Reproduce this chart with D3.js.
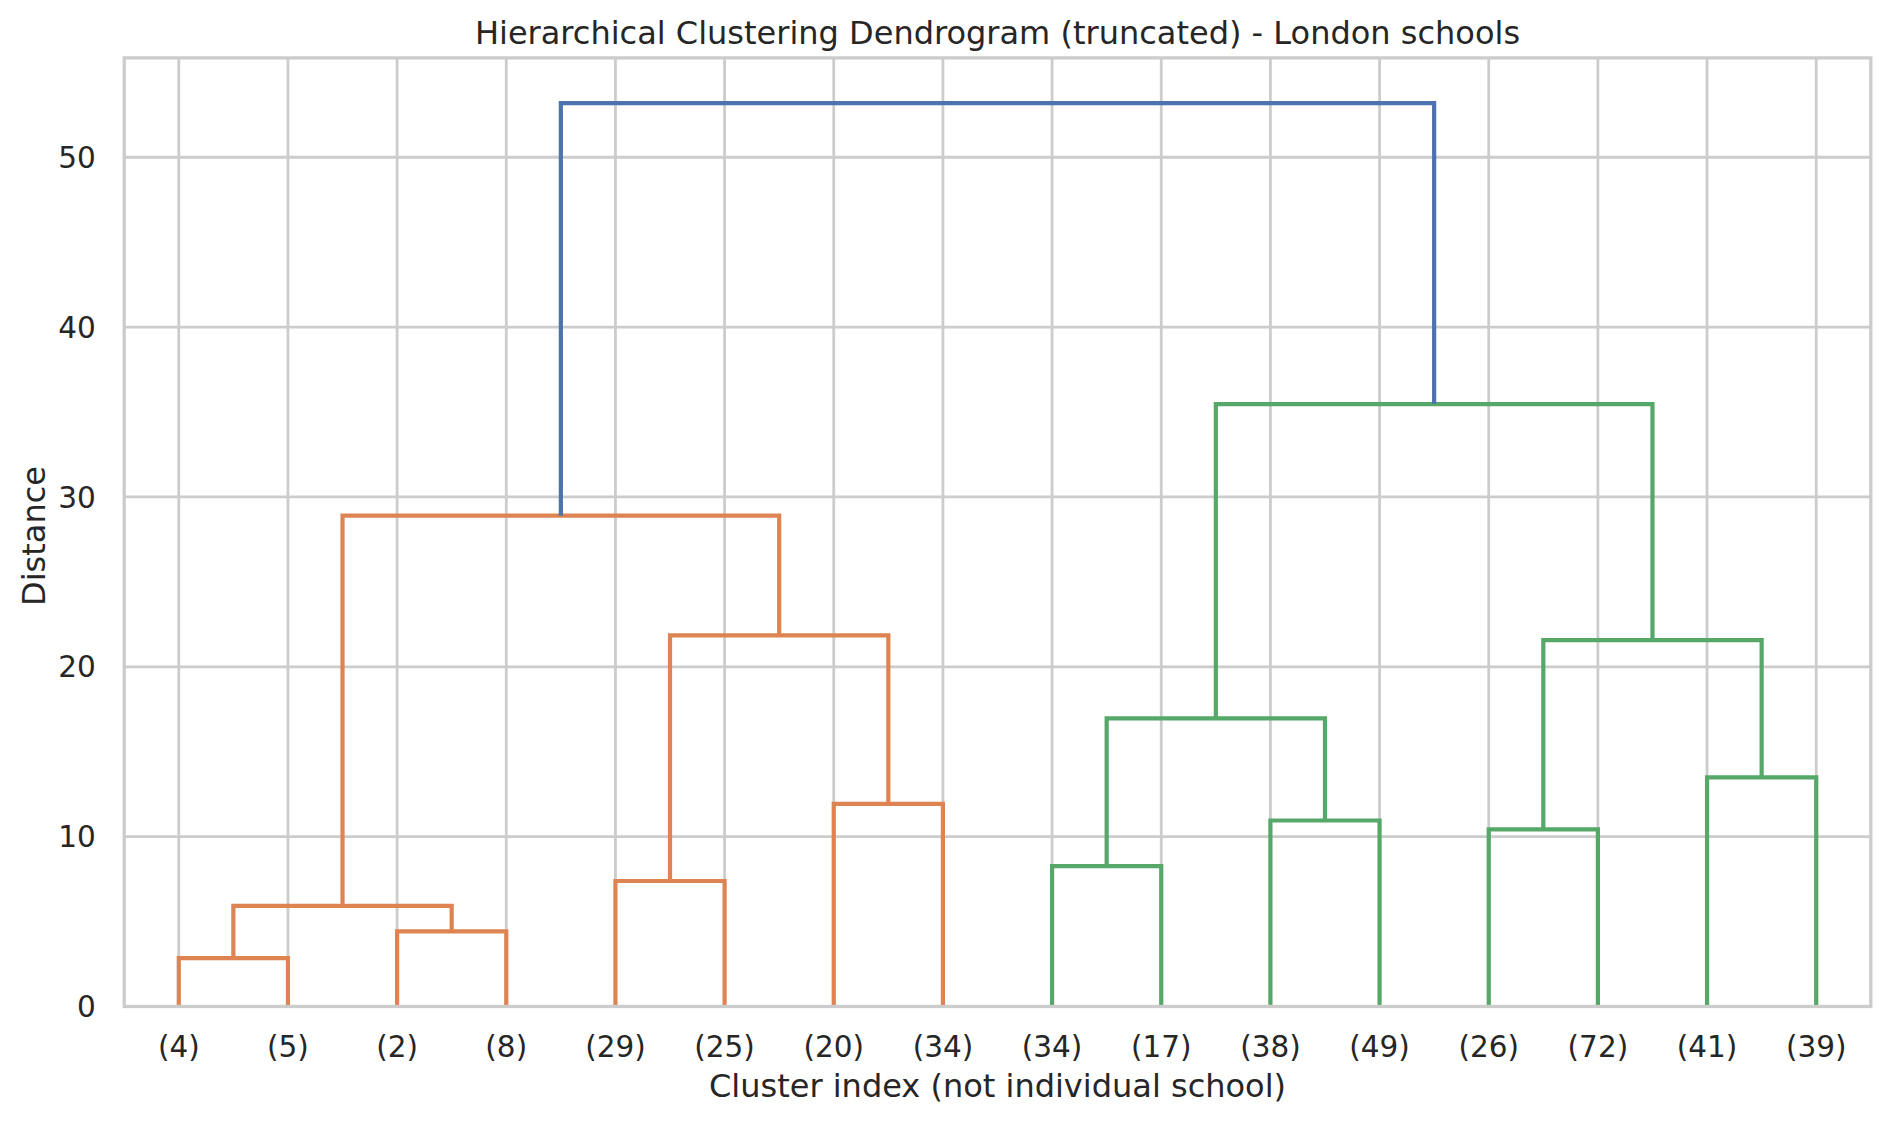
<!DOCTYPE html>
<html>
<head>
<meta charset="utf-8">
<script src="https://cdn.jsdelivr.net/npm/d3@7"></script>
<style>
  html, body { margin: 0; padding: 0; background: #ffffff; }
  svg { display: block; }
  text { font-family: "DejaVu Sans", sans-serif; fill: #262626; }
</style>
</head>
<body>
<svg id="chart" width="1890" height="1123"></svg>
<script>
// ---- data ----
const leafLabels = ["(4)","(5)","(2)","(8)","(29)","(25)","(20)","(34)","(34)","(17)","(38)","(49)","(26)","(72)","(41)","(39)"];
// linkage rows: [left node, right node] ; ids < 16 are leaves, ids >= 16 are earlier merges
const mergeLeft  = [0, 2, 16, 4, 6, 19, 18, 8, 10, 23, 12, 14, 26, 25, 22];
const mergeRight = [1, 3, 17, 5, 7, 20, 21, 9, 11, 24, 13, 15, 27, 28, 29];
const mergeHeight = [2.85, 4.42, 5.92, 7.39, 11.93, 21.85, 28.9, 8.27, 10.95, 16.96, 10.43, 13.49, 21.57, 35.47, 53.19];
const mergeColor  = ["#dd8452","#dd8452","#dd8452","#dd8452","#dd8452","#dd8452","#dd8452",
                     "#55a868","#55a868","#55a868","#55a868","#55a868","#55a868","#55a868","#4c72b0"];
const yTicks = [0, 10, 20, 30, 40, 50];
const titleText = "Hierarchical Clustering Dendrogram (truncated) - London schools";
const xLabelText = "Cluster index (not individual school)";
const yLabelText = "Distance";

// ---- layout ----
const W = 1890, H = 1123;
const plot = { left: 124.2, right: 1870.8, top: 57.9, bottom: 1006.5 };
const nLeaves = leafLabels.length;
const yMax = d3.max(mergeHeight) * 1.05;

const x = d3.scaleLinear().domain([0, nLeaves * 10]).range([plot.left, plot.right]);
const y = d3.scaleLinear().domain([0, yMax]).range([plot.bottom, plot.top]);

const svg = d3.select("#chart");

// grid
const grid = svg.append("g");
const leafPos = d3.range(nLeaves).map(i => i * 10 + 5);
grid.selectAll("line.vg").data(leafPos).enter().append("line")
  .attr("x1", d => x(d)).attr("x2", d => x(d))
  .attr("y1", plot.top).attr("y2", plot.bottom)
  .attr("stroke", "#cccccc").attr("stroke-width", 2.8);
grid.selectAll("line.hg").data(yTicks).enter().append("line")
  .attr("x1", plot.left).attr("x2", plot.right)
  .attr("y1", d => y(d)).attr("y2", d => y(d))
  .attr("stroke", "#cccccc").attr("stroke-width", 2.8);

// compute node positions
const nodeX = leafPos.slice();
const nodeY = new Array(nLeaves).fill(0);
const links = [];
for (let k = 0; k < mergeHeight.length; k++) {
  const a = mergeLeft[k], b = mergeRight[k], h = mergeHeight[k];
  links.push({ xa: nodeX[a], ya: nodeY[a], xb: nodeX[b], yb: nodeY[b], h: h, color: mergeColor[k] });
  nodeX.push((nodeX[a] + nodeX[b]) / 2);
  nodeY.push(h);
}

const lineGen = d3.line().x(d => x(d[0])).y(d => y(d[1]));
svg.append("g").selectAll("path").data(links).enter().append("path")
  .attr("d", d => lineGen([[d.xa, d.ya], [d.xa, d.h], [d.xb, d.h], [d.xb, d.yb]]))
  .attr("fill", "none")
  .attr("stroke", d => d.color)
  .attr("stroke-width", 4.2)
  .attr("stroke-linejoin", "miter")
  .attr("stroke-linecap", "butt");

// frame (spines)
svg.append("rect")
  .attr("x", plot.left).attr("y", plot.top)
  .attr("width", plot.right - plot.left).attr("height", plot.bottom - plot.top)
  .attr("fill", "none").attr("stroke", "#cccccc").attr("stroke-width", 3.3);

// y tick labels
svg.append("g").selectAll("text").data(yTicks).enter().append("text")
  .attr("x", plot.left - 28.5)
  .attr("y", d => y(d))
  .attr("dy", "0.36em")
  .attr("text-anchor", "end")
  .attr("font-size", 29.5)
  .text(d => d);

// x tick labels
svg.append("g").selectAll("text").data(leafLabels).enter().append("text")
  .attr("x", (d, i) => x(leafPos[i]))
  .attr("y", 1056.7)
  .attr("text-anchor", "middle")
  .attr("font-size", 29.5)
  .text(d => d);

// title
svg.append("text")
  .attr("x", (plot.left + plot.right) / 2).attr("y", 44)
  .attr("text-anchor", "middle").attr("font-size", 32)
  .text(titleText);

// axis labels
svg.append("text")
  .attr("x", (plot.left + plot.right) / 2).attr("y", 1097)
  .attr("text-anchor", "middle").attr("font-size", 32)
  .text(xLabelText);

svg.append("text")
  .attr("transform", `translate(45, 536) rotate(-90)`)
  .attr("text-anchor", "middle").attr("font-size", 32)
  .text(yLabelText);
</script>
</body>
</html>
